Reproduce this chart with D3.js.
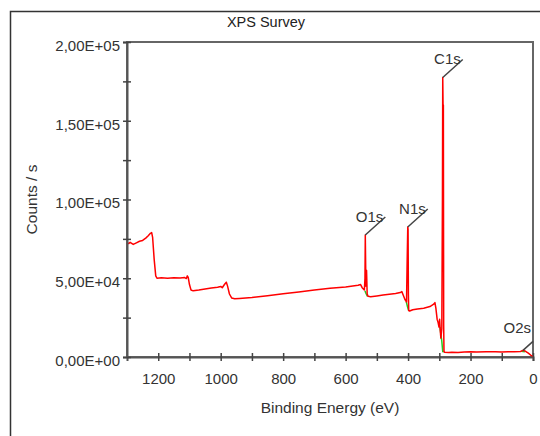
<!DOCTYPE html>
<html>
<head>
<meta charset="utf-8">
<script src="https://cdn.jsdelivr.net/npm/d3@7"></script>
<style>
  body { margin: 0; background: #fff; }
  svg { display: block; font-family: Arial, "Liberation Sans", sans-serif; }
</style>
</head>
<body>
<svg width="540" height="436"></svg>
<script>
// spectrum: [binding energy eV, counts/s]
const spectrum = [
  [1300,72500],[1295,72000],[1290,72800],[1280,71500],[1270,72500],[1260,73500],
  [1250,74000],[1240,75500],[1232,77000],[1225,78500],[1221,79000],[1218,76000],
  [1213,62000],[1208,51500],[1204,50000],[1190,50300],[1170,50000],[1150,50300],
  [1130,50100],[1115,50400],[1110,49800],[1107,51500],[1104,50500],[1100,46000],
  [1095,42500],[1088,42000],[1070,42500],[1050,43200],[1030,43800],[1010,44300],
  [1000,44800],[995,44000],[988,46000],[982,47500],[978,45000],[972,40000],
  [965,37500],[955,37000],[940,37200],[900,37800],[850,38900],[800,40200],
  [750,41300],[700,42500],[650,43600],[600,44500],[560,45500],[552,46000],
  [547,44000],[540,42500],[538,50000],[537,77500],[535,45000],[533,55000],
  [531,40000],[528,38500],[520,38300],[500,38800],[480,39300],[460,39800],
  [440,40300],[425,40900],[420,41500],[415,39000],[410,36500],[405,35000],
  [403,60000],[401,82500],[400,81000],[399,40000],[398,29500],[395,29200],
  [385,30000],[370,30500],[350,31000],[330,32000],[318,33500],[314,34500],
  [311,31000],[307,24000],[304,22000],[301,19000],[299,24000],[297,17000],
  [295,12000],[292,18000],[290,100000],[289,177500],[288,160000],[287,160000],
  [286,20000],[285,3500],[283,3000],[270,2800],[260,3000],[240,2800],[220,3200],
  [200,3300],[180,3100],[150,3300],[120,3400],[100,3200],[80,3300],[60,3400],
  [40,3500],[32,4200],[25,3800],[15,2500],[5,800],[0,200]
];

// backgrounds under the peaks (green)
const backgrounds = [
  [[538,42000],[535,40500],[530,38500]],
  [[406,35200],[402,32000],[398,29300]],
  [[298,19000],[292,10000],[289,3500],[286,3200]],
  [[38,3600],[26,3400]]
];

// peak labels
const peakNames = ["O1s", "N1s", "C1s", "O2s"];
const peakEnergy = [537, 401, 289, 32];
const peakCounts = [77500, 82500, 177500, 4200];

const xTicks = [1200, 1100, 1000, 900, 800, 700, 600, 500, 400, 300, 200, 100, 0];
const xLabels = [1200, 1000, 800, 600, 400, 200, 0];
const yTicks = [0, 50000, 100000, 150000, 200000];
const yMinor = [25000, 75000, 125000, 175000];

const svg = d3.select("svg");
const margin = {top: 42, right: 7, bottom: 79, left: 127};
const width = 540 - margin.left - margin.right;
const height = 436 - margin.top - margin.bottom;

// outer frame (top and left edges only visible)
svg.append("path")
  .attr("d", "M10.5,436V11.5H540")
  .attr("fill", "none").attr("stroke", "#333").attr("stroke-width", 1.5);

svg.append("text")
  .attr("x", 266).attr("y", 27)
  .attr("text-anchor", "middle")
  .attr("font-size", 14.5).attr("fill", "#222")
  .text("XPS Survey");

const g = svg.append("g").attr("transform", "translate(" + margin.left + "," + margin.top + ")");

const x = d3.scaleLinear().domain([1300, 0]).range([0, width]);
const y = d3.scaleLinear().domain([0, 200000]).range([height, 0]);

function sci(v) {
  if (v === 0) return "0,00E+00";
  const e = Math.floor(Math.log10(v));
  const m = v / Math.pow(10, e);
  return m.toFixed(2).replace(".", ",") + "E+" + String(e).padStart(2, "0");
}

// plot box
g.append("rect")
  .attr("width", width).attr("height", height)
  .attr("fill", "none").attr("stroke", "#666").attr("stroke-width", 2);

// data
const line = d3.line().x(d => x(d[0])).y(d => y(d[1]));

g.selectAll(".bg")
  .data(backgrounds)
  .enter().append("path")
  .attr("class", "bg")
  .attr("d", line)
  .attr("fill", "none").attr("stroke", "#22cc22").attr("stroke-width", 1.5);

g.append("path")
  .datum(spectrum)
  .attr("d", line)
  .attr("fill", "none").attr("stroke", "#ff0000").attr("stroke-width", 1.5)
  .attr("stroke-linejoin", "round");

// axes
const xAxis = g.append("g")
  .attr("transform", "translate(0," + height + ")")
  .call(d3.axisBottom(x).tickValues(xTicks).tickSize(4).tickPadding(12)
    .tickFormat(d => xLabels.includes(d) ? d : ""));
const yAxis = g.append("g")
  .call(d3.axisLeft(y).tickValues(yTicks.concat(yMinor)).tickSize(4).tickPadding(3)
    .tickFormat(d => yTicks.includes(d) ? sci(d) : ""));

[xAxis, yAxis].forEach(a => {
  a.select(".domain").attr("stroke", "#555").attr("stroke-width", 2);
  a.selectAll(".tick text").attr("font-size", 15).attr("fill", "#333")
    .attr("font-family", "Arial, 'Liberation Sans', sans-serif");
});
xAxis.selectAll(".tick line").attr("y1", -4).attr("y2", 4).attr("stroke", "#444").attr("stroke-width", 1.5);
yAxis.selectAll(".tick line").attr("x1", 4).attr("x2", -4).attr("stroke", "#444").attr("stroke-width", 1.5);
yAxis.selectAll(".tick text").attr("dy", "0.55em");

// peak leaders and labels
peakNames.forEach((name, i) => {
  const px = x(peakEnergy[i]), py = y(peakCounts[i]);
  let ex = px + 20, ey = py - 18;
  let clipped = false;
  if (ex > width) {
    ey = py - 18 * (width - px) / 20;
    ex = width;
    clipped = true;
  }
  g.append("line")
    .attr("x1", px).attr("y1", py).attr("x2", ex).attr("y2", ey)
    .attr("stroke", "#444").attr("stroke-width", 1.5);
  g.append("text")
    .attr("x", ex - 2).attr("y", clipped ? ey - 8 : ey + 5)
    .attr("text-anchor", "end")
    .attr("font-size", 15).attr("fill", "#333")
    .text(name);
});

// axis titles
svg.append("text")
  .attr("x", margin.left + width / 2).attr("y", 413)
  .attr("text-anchor", "middle")
  .attr("font-size", 15.5).attr("fill", "#333")
  .text("Binding Energy (eV)");

svg.append("text")
  .attr("transform", "translate(37," + (margin.top + height / 2) + ") rotate(-90)")
  .attr("text-anchor", "middle")
  .attr("font-size", 15.5).attr("fill", "#333")
  .text("Counts / s");
</script>
</body>
</html>
